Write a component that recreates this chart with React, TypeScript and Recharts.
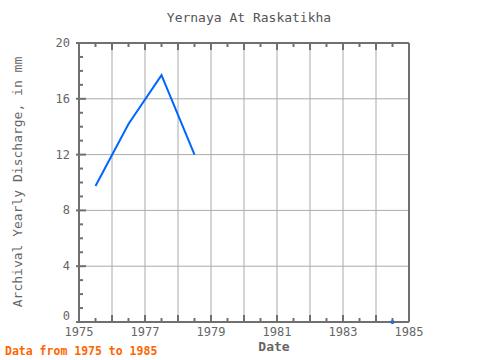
import React from "react";
import { LineChart, Line, XAxis, YAxis, CartesianGrid } from "recharts";

const years = [1975.5, 1976.5, 1977.5, 1978.5, 1979.5, 1980.5, 1981.5, 1982.5, 1983.5, 1984.5];
const discharge = [9.75, 14.2, 17.7, 12.0, null, null, null, null, null, 0];

const xTicks = [
  1975, 1975.5, 1976, 1976.5, 1977, 1977.5, 1978, 1978.5, 1979, 1979.5, 1980,
  1980.5, 1981, 1981.5, 1982, 1982.5, 1983, 1983.5, 1984, 1984.5, 1985,
];
const xLabels = [1975, 1977, 1979, 1981, 1983, 1985];
const xGrid = [1976, 1977, 1978, 1979, 1980, 1981, 1982, 1983, 1984];

const yTicks = [0, 1, 2, 3, 4, 5, 6, 7, 8, 9, 10, 11, 12, 13, 14, 15, 16, 17, 18, 19, 20];
const yLabels = [0, 4, 8, 12, 16, 20];
const yGrid = [4, 8, 12, 16];

const data = years.map((year, i) => ({ year, value: discharge[i] }));

const FONT = "'DejaVu Sans Mono', monospace";
const AXIS = "#707070";
const LINE = "#0066ff";

function BottomTick({ x, y, payload }: any) {
  const v = payload.value;
  const major = Number.isInteger(v);
  return (
    <g>
      <line x1={x} x2={x} y1={y} y2={y - (major ? 7 : 4)} stroke={AXIS} strokeWidth={2} />
      {xLabels.includes(v) && (
        <text x={x} y={y + 14} textAnchor="middle" fontFamily={FONT} fontSize={12} fill="#666">
          {v}
        </text>
      )}
    </g>
  );
}

function TopTick({ x, y, payload }: any) {
  const major = Number.isInteger(payload.value);
  return <line x1={x} x2={x} y1={y} y2={y + (major ? 7 : 4)} stroke={AXIS} strokeWidth={2} />;
}

function LeftTick({ x, y, payload }: any) {
  const v = payload.value;
  const major = yLabels.includes(v);
  return (
    <g>
      <line x1={x - (major ? 3 : 0)} x2={x + (major ? 7 : 4)} y1={y} y2={y} stroke={AXIS} strokeWidth={2} />
      {major && (
        <text x={x - 9} y={v === 0 ? y - 2 : y + 4} textAnchor="end" fontFamily={FONT} fontSize={12} fill="#666">
          {v}
        </text>
      )}
    </g>
  );
}

function RightTick({ x, y, payload }: any) {
  const major = yLabels.includes(payload.value);
  return <line x1={x} x2={x - (major ? 7 : 4)} y1={y} y2={y} stroke={AXIS} strokeWidth={2} />;
}

function LoneDot(props: any) {
  const { cx, cy, index } = props;
  const prev = index > 0 ? discharge[index - 1] : null;
  const next = index < discharge.length - 1 ? discharge[index + 1] : null;
  if (discharge[index] == null || prev != null || next != null) return <g key={index} />;
  return <circle key={index} cx={cx} cy={cy} r={2} fill={LINE} />;
}

export default function App() {
  return (
    <div style={{ position: "absolute", left: 0, top: 0, width: 480, height: 360, fontFamily: FONT }}>
      <div style={{ position: "absolute", left: 0, width: 498, top: 10, textAlign: "center", fontSize: 13, color: "#555" }}>
        Yernaya At Raskatikha
      </div>
      <div
        style={{
          position: "absolute",
          left: 17,
          top: 182,
          transform: "translate(-50%, -50%) rotate(-90deg)",
          whiteSpace: "nowrap",
          fontSize: 13,
          color: "#666",
        }}
      >
        Archival Yearly Discharge, in mm
      </div>
      <div style={{ position: "absolute", left: 0, width: 548, top: 339, textAlign: "center", fontSize: 13, fontWeight: "bold", color: "#666" }}>
        Date
      </div>
      <div style={{ position: "absolute", left: 5, top: 344, fontSize: 11.5, fontWeight: "bold", color: "#ff6600" }}>
        Data from 1975 to 1985
      </div>
      <LineChart width={480} height={360} data={data} margin={{ top: 42, right: 70, bottom: 0, left: 0 }}>
        <CartesianGrid
          xAxisId="b"
          yAxisId="l"
          stroke="#aaa"
          strokeWidth={1}
          verticalValues={xGrid}
          horizontalValues={yGrid}
        />
        <XAxis
          xAxisId="b"
          dataKey="year"
          type="number"
          domain={[1975, 1985]}
          ticks={xTicks}
          interval={0}
          height={38}
          tickSize={0}
          tickMargin={0}
          tick={BottomTick}
          axisLine={{ stroke: AXIS, strokeWidth: 2 }}
        />
        <XAxis
          xAxisId="t"
          orientation="top"
          dataKey="year"
          type="number"
          domain={[1975, 1985]}
          ticks={xTicks}
          interval={0}
          height={1}
          tickSize={0}
          tickMargin={0}
          tick={TopTick}
          axisLine={{ stroke: AXIS, strokeWidth: 2 }}
        />
        <YAxis
          yAxisId="l"
          type="number"
          domain={[0, 20]}
          ticks={yTicks}
          interval={0}
          width={79}
          tickSize={0}
          tickMargin={0}
          tick={LeftTick}
          axisLine={{ stroke: AXIS, strokeWidth: 2 }}
        />
        <YAxis
          yAxisId="r"
          orientation="right"
          type="number"
          domain={[0, 20]}
          ticks={yTicks}
          interval={0}
          width={1}
          tickSize={0}
          tickMargin={0}
          tick={RightTick}
          axisLine={{ stroke: AXIS, strokeWidth: 2 }}
        />
        <Line
          xAxisId="b"
          yAxisId="l"
          dataKey="value"
          stroke={LINE}
          strokeWidth={2}
          dot={LoneDot}
          activeDot={false}
          connectNulls={false}
          isAnimationActive={false}
        />
      </LineChart>
    </div>
  );
}
